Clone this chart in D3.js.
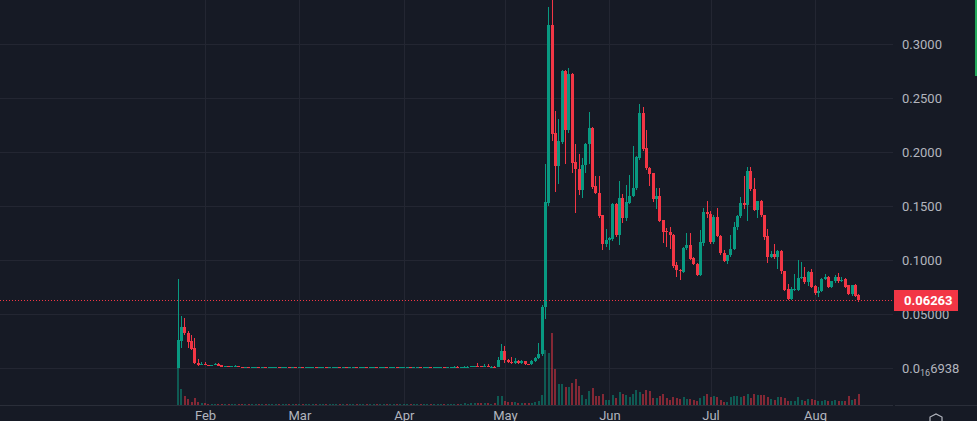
<!DOCTYPE html>
<html>
<head>
<meta charset="utf-8">
<script src="https://cdn.jsdelivr.net/npm/d3@7"></script>
<style>
  html, body { margin: 0; padding: 0; background: #161a25; overflow: hidden; }
  svg { display: block; }
  .axis text { fill: #b2b5be; font-family: Roboto, "DejaVu Sans", sans-serif; font-size: 13px; }
  .axis line { stroke: #232632; }
  .axis .domain { display: none; }
</style>
</head>
<body>
<div id="chart"></div>
<script>
// Daily candles, first one on 24 Jan
const firstDay = '2025-01-24';

const opens = [
  // Jan 24-31
  0.0003, 0.025, 0.038, 0.0324, 0.025, 0.0185, 0.0049, 0.0028,
  // Feb
  0.0040, 0.0028, 0.0019, 0.0028, 0.0040, 0.0024, 0.0009, 0.0019, 0.0012, 0.0012,
  0.0019, 0.0009, 0.0008, 0.0009, 0.0008, 0.0009, 0.0009, 0.0008, 0.0009, 0.0008,
  0.0008, 0.0009, 0.0009, 0.0008, 0.0008, 0.0009, 0.0008, 0.0009,
  // Mar
  0.0008, 0.0009, 0.0008, 0.0008, 0.0009, 0.0009, 0.0008, 0.0009, 0.0009, 0.0008,
  0.0008, 0.0009, 0.0010, 0.0009, 0.0009, 0.0008, 0.0009, 0.0010, 0.0009, 0.0009,
  0.0010, 0.0009, 0.0010, 0.0010, 0.0009, 0.0010, 0.0011, 0.0010, 0.0010, 0.0011,
  0.0010,
  // Apr
  0.0010, 0.0010, 0.0011, 0.0010, 0.0011, 0.0011, 0.0010, 0.0011, 0.0012, 0.0011,
  0.0011, 0.0012, 0.0012, 0.0011, 0.0012, 0.0012, 0.0013, 0.0012, 0.0012, 0.0013,
  0.0013, 0.0014, 0.0016, 0.0014, 0.0013, 0.0014, 0.0013, 0.0013, 0.0012, 0.0074,
  // May
  0.0157, 0.0074, 0.0056, 0.0046, 0.0065, 0.0046, 0.0065, 0.0037, 0.0035, 0.0065,
  0.0093, 0.0130, 0.0565, 0.1528, 0.3176, 0.2176, 0.187, 0.209, 0.275, 0.220,
  0.272, 0.191, 0.184, 0.165, 0.188, 0.207, 0.222, 0.1685, 0.162, 0.1417,
  0.1148,
  // Jun
  0.1185, 0.119, 0.152, 0.123, 0.157, 0.139, 0.153, 0.159, 0.1667, 0.194,
  0.236, 0.204, 0.185, 0.1806, 0.1565, 0.159, 0.137, 0.127, 0.126, 0.123,
  0.0954, 0.091, 0.0892, 0.111, 0.114, 0.102, 0.0963, 0.0861, 0.116, 0.144,
  // Jul
  0.143, 0.1167, 0.140, 0.1222, 0.1065, 0.0991, 0.1046, 0.1102, 0.1306, 0.1407,
  0.1528, 0.1509, 0.1824, 0.1657, 0.1463, 0.1546, 0.1417, 0.1222, 0.1028, 0.1056,
  0.1028, 0.1083, 0.0898, 0.0731, 0.0639, 0.0722, 0.0722, 0.0833, 0.0843, 0.0796,
  0.0889,
  // Aug 1-14
  0.0759, 0.0694, 0.0713, 0.0824, 0.0843, 0.075, 0.0806, 0.0843, 0.0806, 0.0824,
  0.0769, 0.0685, 0.0769, 0.0676
];

const highs = [
  // Jan 24-31
  0.082, 0.048, 0.046, 0.034, 0.0305, 0.0278, 0.0083, 0.0056,
  // Feb
  0.0056, 0.0030, 0.0030, 0.0046, 0.0042, 0.0026, 0.0020, 0.0020, 0.0016, 0.0025,
  0.0019, 0.0010, 0.0010, 0.0010, 0.0010, 0.0010, 0.0010, 0.0010, 0.0010, 0.0009,
  0.0010, 0.0010, 0.0010, 0.0009, 0.0010, 0.0010, 0.0010, 0.0010,
  // Mar
  0.0010, 0.0010, 0.0009, 0.0010, 0.0010, 0.0010, 0.0010, 0.0010, 0.0010, 0.0009,
  0.0010, 0.0011, 0.0011, 0.0010, 0.0010, 0.0010, 0.0011, 0.0011, 0.0010, 0.0011,
  0.0011, 0.0011, 0.0011, 0.0011, 0.0011, 0.0012, 0.0012, 0.0011, 0.0012, 0.0012,
  0.0011,
  // Apr
  0.0011, 0.0012, 0.0012, 0.0012, 0.0012, 0.0012, 0.0012, 0.0013, 0.0013, 0.0012,
  0.0013, 0.0013, 0.0013, 0.0013, 0.0013, 0.0014, 0.0014, 0.0013, 0.0014, 0.0014,
  0.0016, 0.0018, 0.0046, 0.0016, 0.0037, 0.0037, 0.0015, 0.0015, 0.0102, 0.0222,
  // May
  0.0204, 0.0083, 0.0102, 0.0093, 0.0070, 0.0074, 0.0065, 0.0040, 0.0070, 0.0102,
  0.0232, 0.0580, 0.189, 0.334, 0.36, 0.238, 0.2306, 0.276, 0.276, 0.278,
  0.273, 0.207, 0.198, 0.194, 0.208, 0.237, 0.223, 0.178, 0.178, 0.142,
  0.1287,
  // Jun
  0.121, 0.153, 0.153, 0.173, 0.161, 0.169, 0.179, 0.2055, 0.196, 0.244,
  0.242, 0.220, 0.186, 0.181, 0.1667, 0.1667, 0.137, 0.130, 0.131, 0.124,
  0.098, 0.092, 0.112, 0.125, 0.125, 0.103, 0.097, 0.1278, 0.148, 0.155,
  // Jul
  0.145, 0.142, 0.148, 0.123, 0.1093, 0.105, 0.1231, 0.135, 0.1417, 0.158,
  0.1778, 0.1861, 0.186, 0.176, 0.155, 0.156, 0.142, 0.1287, 0.108, 0.1148,
  0.109, 0.109, 0.090, 0.0778, 0.075, 0.087, 0.100, 0.0982, 0.0935, 0.090,
  0.0917,
  // Aug 1-14
  0.077, 0.075, 0.083, 0.087, 0.085, 0.081, 0.086, 0.088, 0.0843, 0.0833,
  0.077, 0.077, 0.0775, 0.0685
];

const lows = [
  // Jan 24-31
  0.0, 0.0185, 0.031, 0.0185, 0.017, 0.004, 0.002, 0.0025,
  // Feb
  0.0026, 0.0017, 0.0018, 0.0027, 0.0018, 0.0008, 0.0008, 0.0011, 0.0011, 0.0011,
  0.0008, 0.0007, 0.0007, 0.0007, 0.0007, 0.0008, 0.0007, 0.0008, 0.0007, 0.0007,
  0.0007, 0.0008, 0.0007, 0.0007, 0.0007, 0.0007, 0.0007, 0.0007,
  // Mar
  0.0008, 0.0007, 0.0007, 0.0007, 0.0008, 0.0007, 0.0008, 0.0008, 0.0007, 0.0007,
  0.0008, 0.0008, 0.0008, 0.0008, 0.0007, 0.0008, 0.0008, 0.0008, 0.0008, 0.0008,
  0.0008, 0.0008, 0.0009, 0.0008, 0.0008, 0.0009, 0.0009, 0.0009, 0.0009, 0.0009,
  0.0009,
  // Apr
  0.0009, 0.0009, 0.0009, 0.0009, 0.0010, 0.0009, 0.0009, 0.0010, 0.0010, 0.0010,
  0.0010, 0.0011, 0.0010, 0.0010, 0.0011, 0.0011, 0.0011, 0.0011, 0.0011, 0.0012,
  0.0012, 0.0013, 0.0013, 0.0012, 0.0012, 0.0012, 0.0012, 0.0011, 0.0011, 0.0070,
  // May
  0.0046, 0.0046, 0.0037, 0.0040, 0.0037, 0.0040, 0.0030, 0.0030, 0.0030, 0.0055,
  0.0085, 0.0110, 0.0454, 0.150, 0.2102, 0.163, 0.170, 0.207, 0.189, 0.218,
  0.181, 0.1435, 0.160, 0.157, 0.181, 0.189, 0.166, 0.161, 0.139, 0.109,
  0.112,
  // Jun
  0.109, 0.118, 0.121, 0.114, 0.134, 0.136, 0.152, 0.158, 0.165, 0.193,
  0.201, 0.183, 0.1685, 0.1537, 0.147, 0.135, 0.116, 0.112, 0.110, 0.093,
  0.0845, 0.0815, 0.088, 0.109, 0.100, 0.095, 0.085, 0.085, 0.1133, 0.139,
  // Jul
  0.115, 0.115, 0.121, 0.105, 0.098, 0.0963, 0.103, 0.109, 0.128, 0.139,
  0.147, 0.136, 0.164, 0.145, 0.139, 0.140, 0.1185, 0.0972, 0.102, 0.101,
  0.0917, 0.087, 0.071, 0.063, 0.063, 0.071, 0.071, 0.082, 0.078, 0.0759,
  0.074,
  // Aug 1-14
  0.068, 0.066, 0.070, 0.0815, 0.074, 0.074, 0.079, 0.079, 0.0796, 0.074,
  0.0676, 0.067, 0.066, 0.0611
];

const closes = [
  // Jan 24-31
  0.026, 0.038, 0.0324, 0.024, 0.0176, 0.0049, 0.0028, 0.0040,
  // Feb
  0.0028, 0.0019, 0.0028, 0.0040, 0.0019, 0.0009, 0.0019, 0.0012, 0.0014, 0.0019,
  0.0009, 0.0008, 0.0009, 0.0008, 0.0009, 0.0009, 0.0008, 0.0009, 0.0008, 0.0008,
  0.0009, 0.0009, 0.0008, 0.0008, 0.0009, 0.0008, 0.0009, 0.0008,
  // Mar
  0.0009, 0.0008, 0.0008, 0.0009, 0.0009, 0.0008, 0.0009, 0.0009, 0.0008, 0.0008,
  0.0009, 0.0010, 0.0009, 0.0009, 0.0008, 0.0009, 0.0010, 0.0009, 0.0009, 0.0010,
  0.0009, 0.0010, 0.0010, 0.0009, 0.0010, 0.0011, 0.0010, 0.0010, 0.0011, 0.0010,
  0.0010,
  // Apr
  0.0010, 0.0011, 0.0010, 0.0011, 0.0011, 0.0010, 0.0011, 0.0012, 0.0011, 0.0011,
  0.0012, 0.0012, 0.0011, 0.0012, 0.0012, 0.0013, 0.0012, 0.0012, 0.0013, 0.0013,
  0.0014, 0.0016, 0.0014, 0.0013, 0.0014, 0.0013, 0.0013, 0.0012, 0.0074, 0.0157,
  // May
  0.0074, 0.0056, 0.0046, 0.0065, 0.0046, 0.0065, 0.0037, 0.0035, 0.0065, 0.0093,
  0.0130, 0.0565, 0.1537, 0.3176, 0.2167, 0.187, 0.2102, 0.275, 0.220, 0.272,
  0.190, 0.184, 0.165, 0.188, 0.207, 0.222, 0.1676, 0.162, 0.1407, 0.1148,
  0.1185,
  // Jun
  0.120, 0.152, 0.123, 0.157, 0.139, 0.154, 0.159, 0.1667, 0.195, 0.236,
  0.203, 0.185, 0.180, 0.1565, 0.159, 0.1364, 0.126, 0.126, 0.123, 0.0947,
  0.0907, 0.0895, 0.111, 0.114, 0.101, 0.0963, 0.0861, 0.1163, 0.144, 0.143,
  // Jul
  0.1167, 0.140, 0.1222, 0.1065, 0.0991, 0.1046, 0.1102, 0.1306, 0.1407, 0.1528,
  0.1509, 0.1824, 0.1657, 0.1463, 0.1546, 0.1417, 0.1213, 0.1028, 0.1056, 0.1028,
  0.1083, 0.0898, 0.0722, 0.0639, 0.0731, 0.0731, 0.0833, 0.0843, 0.0796, 0.0889,
  0.0750,
  // Aug 1-14
  0.0694, 0.0713, 0.0824, 0.0843, 0.075, 0.0806, 0.0843, 0.0806, 0.0815, 0.075,
  0.0685, 0.0769, 0.0667, 0.06263
];

// Volume, arbitrary units (millions)
const volumes = [
  // Jan 24-31
  3.8, 1.6, 0.9, 0.6, 0.3, 0.7, 0.3, 0.2,
  // Feb
  0.2, 0.1, 0.1, 0.1, 0.1, 0.1, 0.1, 0.1, 0.1, 0.1,
  0.1, 0.1, 0.1, 0.1, 0.1, 0.1, 0.1, 0.1, 0.1, 0.1,
  0.1, 0.1, 0.1, 0.1, 0.1, 0.1, 0.1, 0.1,
  // Mar
  0.1, 0.1, 0.1, 0.1, 0.1, 0.1, 0.1, 0.1, 0.1, 0.1,
  0.1, 0.1, 0.1, 0.1, 0.1, 0.1, 0.1, 0.1, 0.1, 0.1,
  0.1, 0.1, 0.1, 0.1, 0.1, 0.1, 0.1, 0.1, 0.1, 0.1,
  0.1,
  // Apr
  0.1, 0.1, 0.1, 0.1, 0.1, 0.1, 0.1, 0.1, 0.1, 0.1,
  0.1, 0.1, 0.1, 0.1, 0.1, 0.1, 0.1, 0.1, 0.2, 0.1,
  0.2, 0.2, 0.2, 0.2, 0.2, 0.2, 0.1, 0.2, 0.9, 0.9,
  // May
  0.4, 0.3, 0.3, 0.3, 0.2, 0.2, 0.2, 0.2, 0.2, 0.3,
  0.4, 1.0, 5.5, 5.2, 7.2, 3.6, 2.1, 2.1, 1.8, 1.8,
  2.2, 2.6, 1.9, 1.0, 0.6, 1.4, 1.7, 0.9, 0.9, 1.1,
  0.5,
  // Jun
  0.5, 1.0, 0.7, 1.3, 1.1, 1.0, 0.8, 1.1, 1.5, 1.3,
  1.1, 1.5, 1.4, 0.7, 0.7, 0.9, 1.1, 0.7, 0.5, 0.8,
  0.7, 0.6, 0.8, 0.6, 0.6, 0.5, 0.4, 0.7, 0.9, 1.1,
  // Jul
  0.8, 0.9, 0.8, 0.5, 0.3, 0.3, 0.8, 0.9, 0.9, 0.8,
  0.9, 1.1, 0.7, 1.1, 1.0, 1.0, 1.0, 0.8, 0.6, 0.5,
  0.8, 0.8, 0.7, 0.4, 0.4, 0.4, 0.8, 0.5, 0.4, 0.6,
  0.6,
  // Aug 1-14
  0.5, 0.4, 0.4, 0.5, 0.4, 0.4, 0.5, 0.4, 0.4, 0.4,
  0.9, 0.5, 0.6, 1.1
];

// Axis ticks
const monthTicks = ['2025-02-01', '2025-03-01', '2025-04-01', '2025-05-01', '2025-06-01', '2025-07-01', '2025-08-01'];
const monthLabels = ['Feb', 'Mar', 'Apr', 'May', 'Jun', 'Jul', 'Aug'];
const priceTicks = [0, 0.05, 0.1, 0.15, 0.2, 0.25, 0.3];
// "_" marks the subscript part of a label
const priceTickLabels = ['0.0_16_6938', '0.05000', '0.1000', '0.1500', '0.2000', '0.2500', '0.3000'];
const lastPrice = 0.06263;
const lastPriceLabel = '0.06263';

const n = opens.length;
[highs, lows, closes, volumes].forEach(a => {
  if (a.length !== n) throw new Error('length mismatch ' + n + ' vs ' + a.length);
});

// Layout
const cfg = {
  width: 977, height: 421,
  paneRight: 894, paneBottom: 405,
  up: '#089981', down: '#f23645',
  volUp: 'rgba(8,153,129,0.5)', volDown: 'rgba(242,54,69,0.5)',
};

const parse = d3.utcParse('%Y-%m-%d');
const start = parse(firstDay);
const data = opens.map((o, i) => ({
  date: d3.utcDay.offset(start, i),
  o, h: highs[i], l: lows[i], c: closes[i], v: volumes[i],
}));

// Scales (visible window of the chart)
const x = d3.scaleUtc()
  .domain([parse('2025-02-01'), parse('2025-08-01')])
  .range([205, 815]);
const y = d3.scaleLinear().domain([0, 0.3]).range([368, 44]);
const yVol = d3.scaleLinear().domain([0, 10]).range([cfg.paneBottom, cfg.paneBottom - 100]);

const svg = d3.select('#chart').append('svg')
  .attr('width', cfg.width)
  .attr('height', cfg.height)
  .style('background', '#161a25');

svg.append('clipPath').attr('id', 'pane')
  .append('rect').attr('x', 0).attr('y', 0)
  .attr('width', cfg.paneRight).attr('height', cfg.paneBottom);

// Horizontal grid + price labels
const yAxis = svg.append('g').attr('class', 'axis axis--y')
  .call(d3.axisRight(y)
    .tickValues(priceTicks)
    .tickSize(cfg.paneRight - 1)
    .tickPadding(9)
    .tickFormat((d, i) => priceTickLabels[i]));
yAxis.selectAll('line').attr('shape-rendering', 'crispEdges');
yAxis.selectAll('text').each(function(d, i) {
  const parts = priceTickLabels[i].split('_');
  if (parts.length < 3) return;
  const t = d3.select(this).text(null);
  t.append('tspan').text(parts[0]);
  t.append('tspan').attr('font-size', '9px').attr('dy', '3').text(parts[1]);
  t.append('tspan').attr('dy', '-3').text(parts[2]);
});

// Vertical grid + month labels
const xAxis = svg.append('g').attr('class', 'axis axis--x')
  .attr('transform', `translate(0,${cfg.paneBottom})`)
  .call(d3.axisBottom(x)
    .tickValues(monthTicks.map(parse))
    .tickSize(-cfg.paneBottom)
    .tickPadding(6)
    .tickFormat((d, i) => monthLabels[i]));
xAxis.selectAll('line').attr('shape-rendering', 'crispEdges');

const pane = svg.append('g').attr('clip-path', 'url(#pane)');

// Volume bars
pane.append('g').selectAll('rect')
  .data(data).enter().append('rect')
  .attr('x', d => Math.round(x(d.date) - 1))
  .attr('width', 2)
  .attr('y', d => Math.min(cfg.paneBottom - 1, Math.round(yVol(d.v))))
  .attr('height', d => Math.max(1, cfg.paneBottom - Math.round(yVol(d.v))))
  .attr('fill', d => d.c >= d.o ? cfg.volUp : cfg.volDown)
  .attr('shape-rendering', 'crispEdges');

// Candles
const candles = pane.append('g').selectAll('g')
  .data(data).enter().append('g')
  .attr('fill', d => d.c >= d.o ? cfg.up : cfg.down)
  .attr('shape-rendering', 'crispEdges');

candles.append('rect')
  .attr('x', d => Math.round(x(d.date) - 1.5) + 1)
  .attr('width', 1)
  .attr('y', d => Math.round(y(d.h)))
  .attr('height', d => Math.max(1, Math.round(y(d.l)) - Math.round(y(d.h))));

candles.append('rect')
  .attr('x', d => Math.round(x(d.date) - 1.5))
  .attr('width', 3)
  .attr('y', d => Math.round(y(Math.max(d.o, d.c))))
  .attr('height', d => Math.max(1, Math.round(y(Math.min(d.o, d.c))) - Math.round(y(Math.max(d.o, d.c)))));

// Last price line and label
const ly = Math.round(y(lastPrice)) + 0.5;
svg.append('line')
  .attr('x1', 0).attr('x2', cfg.paneRight)
  .attr('y1', ly).attr('y2', ly)
  .attr('stroke', cfg.down)
  .attr('stroke-dasharray', '1,2');

svg.append('rect')
  .attr('x', cfg.paneRight).attr('y', ly - 10.5)
  .attr('width', 64).attr('height', 21)
  .attr('fill', cfg.down);
svg.append('text')
  .attr('x', cfg.paneRight + 10).attr('y', ly)
  .attr('dy', '0.35em')
  .attr('fill', '#ffffff')
  .style('font-family', 'Roboto, "DejaVu Sans", sans-serif')
  .style('font-size', '13px')
  .style('font-weight', 'bold')
  .text(lastPriceLabel);

// Bottom border of the pane and price scale
svg.append('path')
  .attr('d', `M0,${cfg.paneBottom + 0.5}H${cfg.paneRight - 1}M${cfg.paneRight + 1},${cfg.paneBottom + 0.5}H${cfg.width}`)
  .attr('stroke', '#2a2e39');

// Scroll marker at right edge
svg.append('rect')
  .attr('x', cfg.width - 2).attr('y', 0)
  .attr('width', 2).attr('height', 76)
  .attr('fill', '#22ab5c');

// Settings icon, mostly cut off at the bottom
svg.append('path')
  .attr('d', 'M930,421 L930,417 L936,414 L942,417 L942,421')
  .attr('fill', 'none')
  .attr('stroke', '#b2b5be')
  .attr('stroke-width', 1.2);
</script>
</body>
</html>
